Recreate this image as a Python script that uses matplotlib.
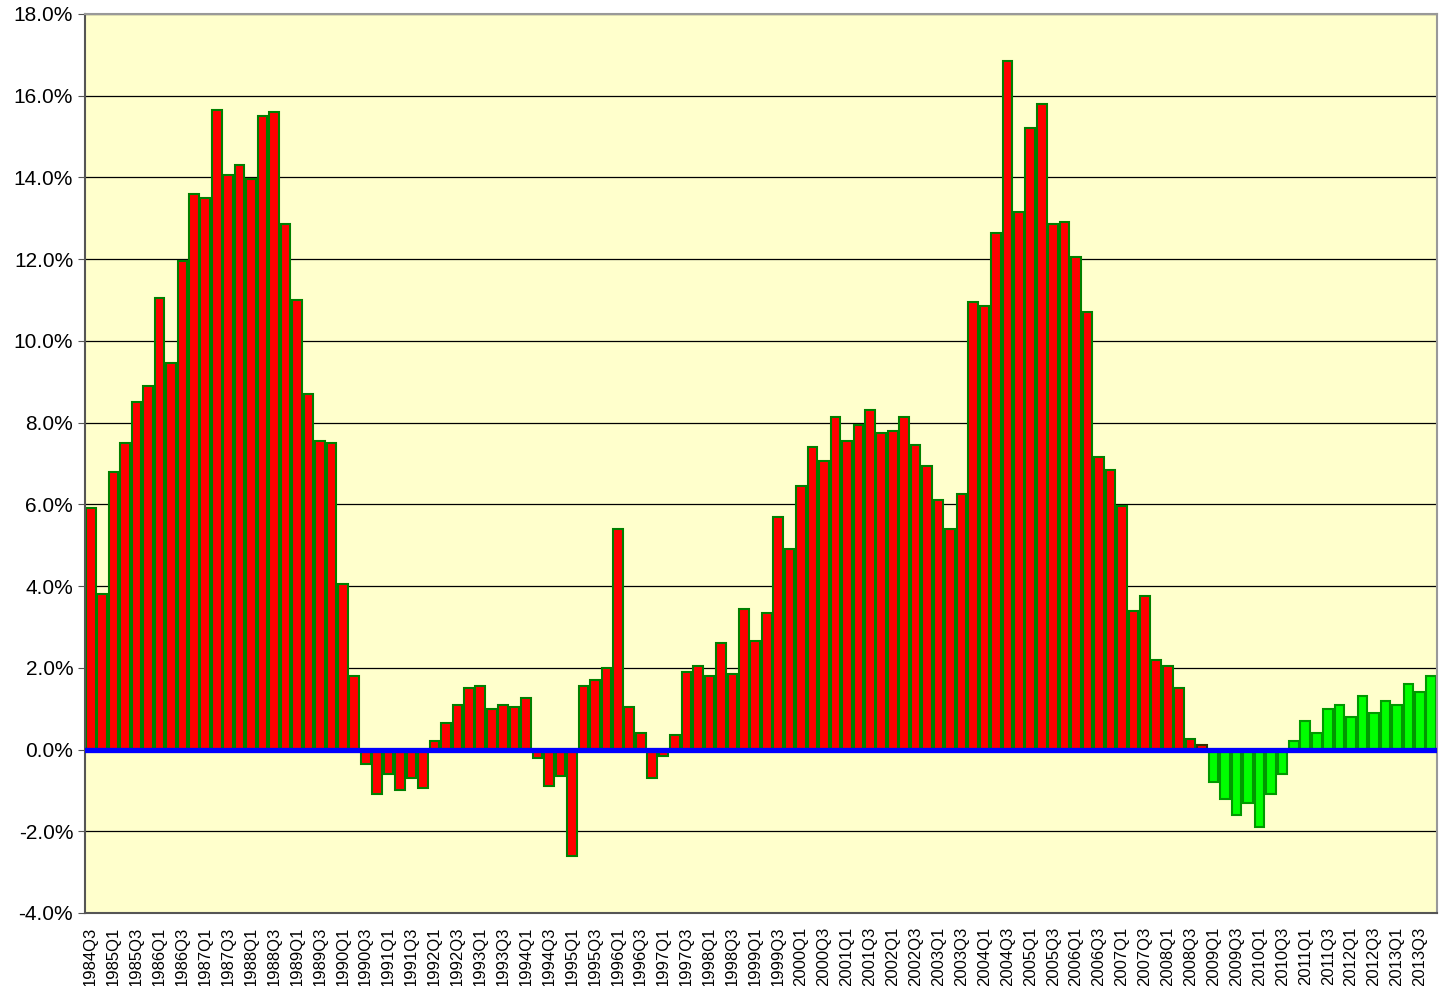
import numpy as np
import matplotlib
matplotlib.use('Agg')
import matplotlib.pyplot as plt
from matplotlib.ticker import FuncFormatter

plt.rcParams['font.family'] = ['Liberation Sans', 'DejaVu Sans']

# quarterly growth, 1984Q3 .. 2013Q4 (percent)
values = [5.9, 3.8,
          6.8, 7.5, 8.5, 8.9,
          11.05, 9.45, 11.95, 13.6,
          13.5, 15.65, 14.05, 14.3,
          13.95, 15.5, 15.6, 12.85,
          11.0, 8.7, 7.55, 7.5,
          4.05, 1.8, -0.35, -1.1,
          -0.6, -1.0, -0.7, -0.95,
          0.2, 0.65, 1.1, 1.5,
          1.55, 1.0, 1.1, 1.05,
          1.25, -0.2, -0.9, -0.65,
          -2.6, 1.55, 1.7, 2.0,
          5.4, 1.05, 0.4, -0.7,
          -0.15, 0.35, 1.9, 2.05,
          1.8, 2.6, 1.85, 3.45,
          2.65, 3.35, 5.7, 4.9,
          6.45, 7.4, 7.05, 8.15,
          7.55, 7.95, 8.3, 7.75,
          7.8, 8.15, 7.45, 6.95,
          6.1, 5.4, 6.25, 10.95,
          10.85, 12.65, 16.85, 13.15,
          15.2, 15.8, 12.85, 12.9,
          12.05, 10.7, 7.15, 6.85,
          5.95, 3.4, 3.75, 2.2,
          2.05, 1.5, 0.25, 0.1,
          -0.8, -1.2, -1.6, -1.3,
          -1.9, -1.1, -0.6, 0.2,
          0.7, 0.4, 1.0, 1.1,
          0.8, 1.3, 0.9, 1.2,
          1.1, 1.6, 1.4, 1.8]

quarters = []
for y in range(1984, 2014):
    for q in range(1, 5):
        if y == 1984 and q < 3:
            continue
        quarters.append('%dQ%d' % (y, q))

first_green = quarters.index('2009Q1')

fig = plt.figure(figsize=(14.42, 9.86), dpi=100)
ax = fig.add_axes([85/1442, 73/986, 1352/1442, 899/986])
ax.set_facecolor('#FFFFCC')

x = np.arange(len(values))
fills = ['#FF0000' if i < first_green else '#00FF00' for i in x]
edges = ['#008000' if i < first_green else '#009900' for i in x]
edges[first_green - 1] = '#333300'
ax.bar(x, values, width=0.84, color=fills, edgecolor=edges, linewidth=1.5, zorder=2)
ax.axhline(0, color='#0000FF', linewidth=3.8, zorder=3)

ax.set_ylim(-4, 18)
ax.set_yticks(np.arange(-4, 18.1, 2))
ax.yaxis.set_major_formatter(FuncFormatter(lambda v, p: '%.1f%%' % v))
ax.yaxis.grid(True, color='black', linewidth=0.9, zorder=1)
ax.set_axisbelow(True)

ax.set_xlim(-0.5, len(values) - 0.5)
ax.set_xticks(x[::2])
ax.set_xticklabels(quarters[::2], rotation=90, fontsize=12)
ax.tick_params(axis='y', labelsize=15, length=5, color='#555555')
ax.tick_params(axis='x', length=0, pad=10)

for s in ['left', 'bottom']:
    ax.spines[s].set_color('#555555')
    ax.spines[s].set_linewidth(1.5)
for s in ['right', 'top']:
    ax.spines[s].set_color('#999999')
    ax.spines[s].set_linewidth(1.5)

fig.savefig('out.png', dpi=100)
